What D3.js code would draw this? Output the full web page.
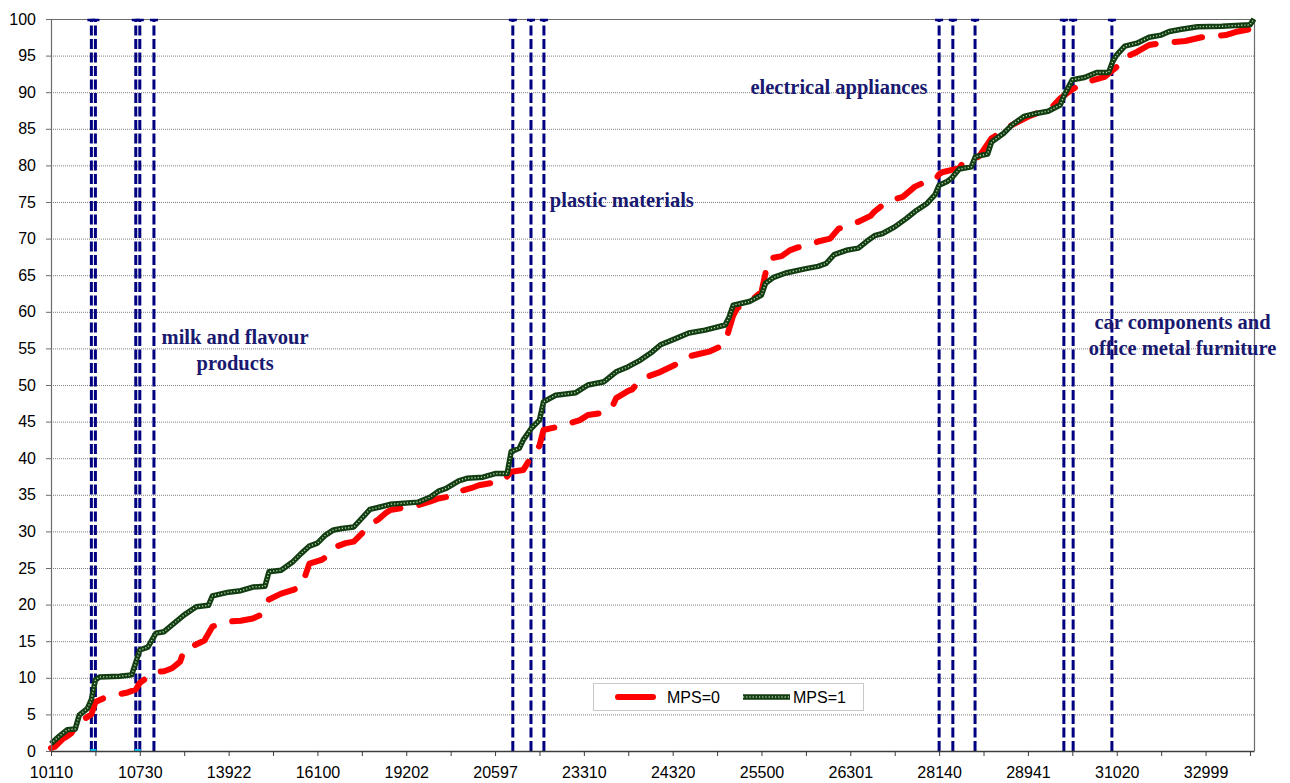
<!DOCTYPE html>
<html>
<head>
<meta charset="utf-8">
<script src="https://cdn.jsdelivr.net/npm/d3@7"></script>
<style>
  html, body { margin: 0; padding: 0; background: #ffffff; }
  svg { display: block; }
</style>
</head>
<body>
<svg id="chart" width="1290" height="783"></svg>
<script>
// Sector codes along the category axis (299 codes, one label every 22nd code)
const categoryCount = 299;
const tickLabels = ["10110", "10730", "13922", "16100", "19202", "20597", "23310",
                    "24320", "25500", "26301", "28140", "28941", "31020", "32999"];
const yTicks = [0, 5, 10, 15, 20, 25, 30, 35, 40, 45, 50, 55, 60, 65, 70, 75, 80, 85, 90, 95, 100];

// Cumulative share (%) by sector position: [category index, value]
const mps0 = [
  [0,0.4],[1,0.6],[3,1.7],[4,2.0],[5,2.4],[6,3.3],[8,4.3],[10,5.0],[11,6.7],[13,7.2],[16,7.65],
  [19,8.0],[21,8.4],[22,9.3],[24,10.1],[26,10.8],[28,10.9],[30,11.3],[32,12.2],[33,13.9],[35,14.3],
  [38,15.1],[40,17.0],[41,17.2],[44,17.7],[47,17.8],[50,18.1],[52,18.6],[53,19.5],[54,20.7],[57,21.5],
  [60,22.0],[62,22.5],[63,24.0],[64,25.6],[67,26.1],[69,26.8],[71,28.0],[73,28.4],[75,28.6],[77,29.7],
  [79,30.9],[81,31.6],[83,32.55],[84,32.9],[91,33.6],[94,34.1],[96,34.5],[99,34.8],[100,35.3],[104,35.9],
  [106,36.3],[109,36.6],[112,36.9],[114,38.15],[117,38.4],[118,39.3],[119,40.3],[121,41.7],[122,43.85],
  [124,44.1],[127,44.5],[129,44.85],[131,45.2],[133,45.9],[137,46.2],[139,47.0],[140,48.2],[143,49.2],
  [144,49.4],[146,50.7],[148,51.2],[151,51.8],[154,52.6],[157,53.4],[158,53.9],[161,54.3],[163,54.55],
  [166,55.3],[167,55.7],[168,57.7],[169,59.5],[170,60.5],[172,61.2],[174,61.8],[176,62.75],[177,65.3],
  [178,67.3],[181,67.6],[183,68.4],[185,68.8],[188,69.1],[190,69.6],[193,70.0],[195,71.3],[197,71.8],
  [200,72.3],[203,73.1],[204,73.7],[207,75.0],[209,75.4],[211,75.7],[214,77.1],[216,77.6],[219,78.0],
  [220,78.8],[221,79.1],[224,79.5],[225,79.6],[226,80.5],[228,80.6],[230,81.3],[231,82.1],[233,83.7],
  [235,84.4],[238,85.5],[242,86.65],[245,87.3],[248,88.0],[250,89.15],[253,90.4],[256,91.3],[261,92.1],
  [263,93.0],[265,93.95],[266,94.75],[269,95.5],[272,96.45],[275,96.7],[277,96.8],[281,97.0],[285,97.5],
  [288,97.7],[291,97.8],[294,98.3],[298,98.7]
];
const mps1 = [
  [0,1.0],[2,2.0],[4,2.9],[6,3.0],[7,4.9],[9,5.8],[10,7.0],[11,9.7],[12,10.1],[17,10.2],[20,10.4],
  [22,13.8],[24,14.2],[26,16.1],[28,16.3],[33,18.6],[36,19.7],[39,19.9],[40,21.2],[44,21.7],[47,21.9],
  [50,22.4],[53,22.5],[54,24.5],[57,24.7],[60,25.9],[62,27.0],[64,28.0],[66,28.4],[68,29.5],[70,30.2],
  [72,30.4],[75,30.6],[79,33.0],[82,33.4],[84,33.7],[91,34.0],[94,34.7],[96,35.5],[98,35.9],[101,36.9],
  [103,37.25],[107,37.4],[110,37.9],[113,37.9],[114,40.9],[116,41.35],[117,42.5],[119,44.1],[121,45.2],
  [122,47.7],[125,48.6],[130,48.95],[133,50.0],[137,50.45],[140,51.8],[143,52.5],[146,53.4],[149,54.55],
  [151,55.5],[155,56.4],[158,57.1],[162,57.5],[167,58.2],[168,59.3],[169,60.9],[173,61.4],[176,62.3],
  [177,63.9],[179,64.7],[182,65.3],[187,65.9],[190,66.2],[192,66.6],[194,67.8],[197,68.4],[200,68.7],
  [202,69.6],[204,70.4],[206,70.7],[209,71.6],[212,72.8],[214,73.7],[217,74.8],[219,76.0],[220,77.3],
  [222,77.8],[223,78.2],[225,79.5],[228,79.8],[229,81.2],[232,81.55],[233,83.2],[236,84.4],[238,85.5],
  [241,86.7],[244,87.1],[247,87.4],[250,88.25],[251,89.6],[253,91.7],[256,92.0],[259,92.7],[262,92.7],
  [263,94.2],[264,95.1],[266,96.3],[269,96.7],[272,97.5],[275,97.8],[277,98.3],[280,98.6],[284,98.95],
  [290,99.0],[297,99.2],[298,100]
];

// Category positions that mark sector boundaries
const sectorLines = [10, 11, 21, 22, 25.5, 114.4, 118.9, 122.1, 220, 223.4, 228.9, 250.9, 253.2, 262.8];
// Boundaries flagged on the axis
const axisMarks = [10.5, 21.5];

// Sector annotations: [text lines, category index of centre, value at first baseline]
const annotations = [
  { lines: ["milk and flavour", "products"], at: 45.6, value: 55.6 },
  { lines: ["plastic materials"], at: 141.4, value: 74.3 },
  { lines: ["electrical appliances"], at: 195.2, value: 89.75 },
  { lines: ["car components and", "office metal furniture"], at: 280.3, value: 57.65 }
];

const seriesNames = ["MPS=0", "MPS=1"];

const svg = d3.select("#chart");
const W = 1290, H = 783;
const margin = { top: 19, right: 36, bottom: 32, left: 51 };

const x = d3.scaleLinear().domain([0, categoryCount - 1]).range([margin.left, W - margin.right]);
const y = d3.scaleLinear().domain([0, 100]).range([H - margin.bottom, margin.top]);

const axisFont = "'Liberation Sans', Arial, sans-serif";
const noteFont = "'Liberation Serif', 'Times New Roman', serif";

// Dotted horizontal gridlines
svg.append("g")
  .selectAll("line")
  .data(yTicks.filter(v => v > 0 && v < 100))
  .join("line")
  .attr("x1", x(0)).attr("x2", x(categoryCount - 1))
  .attr("y1", d => y(d) + 0.5).attr("y2", d => y(d) + 0.5)
  .attr("stroke", "#7f7f7f")
  .attr("stroke-width", 1)
  .attr("stroke-dasharray", "1,1");

// Plot frame (top and right borders)
svg.append("path")
  .attr("d", `M${x(0)},${y(100) + 0.5}H${x(categoryCount - 1) + 0.5}V${y(0)}`)
  .attr("fill", "none")
  .attr("stroke", "#6b6b6b")
  .attr("stroke-width", 1.2);

// Sector boundary lines with caps at the top
const sectors = svg.append("g");
sectors.selectAll("line.bound")
  .data(sectorLines)
  .join("line")
  .attr("class", "bound")
  .attr("x1", d => x(d)).attr("x2", d => x(d))
  .attr("y1", y(0)).attr("y2", y(100))
  .attr("stroke", "#000080")
  .attr("stroke-width", 3)
  .attr("stroke-dasharray", "10,3.5");
sectors.selectAll("line.cap")
  .data(sectorLines)
  .join("line")
  .attr("class", "cap")
  .attr("x1", d => x(d) - 4).attr("x2", d => x(d) + 4)
  .attr("y1", y(100) + 1).attr("y2", y(100) + 1)
  .attr("stroke", "#000080")
  .attr("stroke-width", 2.5);

// Line generator shared by both series
const line = d3.line().x(d => x(d[0])).y(d => y(d[1]));

// MPS=0: thick red long-dashed line
svg.append("path")
  .datum(mps0)
  .attr("d", line)
  .attr("fill", "none")
  .attr("stroke", "#ff0000")
  .attr("stroke-width", 6)
  .attr("stroke-linecap", "round")
  .attr("stroke-linejoin", "round")
  .attr("stroke-dasharray", "28,19");

// MPS=1: dark green line with a light dotted core
const g1 = svg.append("g");
g1.append("path")
  .datum(mps1)
  .attr("d", line)
  .attr("fill", "none")
  .attr("stroke", "#123d12")
  .attr("stroke-width", 5.5)
  .attr("stroke-linejoin", "round");
g1.append("path")
  .datum(mps1)
  .attr("d", line)
  .attr("fill", "none")
  .attr("stroke", "#b7d3a8")
  .attr("stroke-width", 1.4)
  .attr("stroke-dasharray", "1.2,2")
  .attr("stroke-linejoin", "round");

// Turquoise markers on the category axis
svg.append("g")
  .selectAll("rect")
  .data(axisMarks)
  .join("rect")
  .attr("x", d => x(d) - 3).attr("y", y(0) - 2)
  .attr("width", 6).attr("height", 3)
  .attr("fill", "#00ccff");

// Y axis
const yAxis = svg.append("g")
  .attr("transform", `translate(${x(0)},0)`)
  .call(d3.axisLeft(y).tickValues(yTicks).tickSize(5).tickPadding(10).tickFormat(d3.format("d")));
yAxis.select(".domain").attr("stroke", "#6b6b6b").attr("stroke-width", 1.2);
yAxis.selectAll(".tick line").attr("stroke", "#6b6b6b");
yAxis.selectAll("text").attr("font-family", axisFont).attr("font-size", 16).attr("fill", "#000");

// X axis: tick every 11 categories, label every 22
const xTickValues = d3.range(0, categoryCount, 11);
const xAxis = svg.append("g")
  .attr("transform", `translate(0,${y(0)})`)
  .call(d3.axisBottom(x)
    .tickValues(xTickValues)
    .tickSize(5)
    .tickSizeOuter(0)
    .tickPadding(11)
    .tickFormat(d => (d % 22 === 0 ? tickLabels[d / 22] : "")));
xAxis.select(".domain").attr("stroke", "#3c3c3c").attr("stroke-width", 1.5);
xAxis.selectAll(".tick line").attr("stroke", "#3c3c3c");
xAxis.selectAll("text").attr("font-family", axisFont).attr("font-size", 16).attr("fill", "#000");

// Sector annotations
const notes = svg.append("g")
  .attr("font-family", noteFont)
  .attr("font-weight", "bold")
  .attr("font-size", 20.5)
  .attr("fill", "#191970")
  .attr("text-anchor", "middle");
annotations.forEach(a => {
  const t = notes.append("text")
    .attr("x", x(a.at))
    .attr("y", y(a.value));
  a.lines.forEach((s, i) => {
    t.append("tspan")
      .attr("x", x(a.at))
      .attr("dy", i === 0 ? 0 : 26)
      .text(s);
  });
});

// Legend
const legend = svg.append("g").attr("transform", "translate(593,683)");
legend.append("rect")
  .attr("x", 0.5).attr("y", 0.5)
  .attr("width", 270).attr("height", 27)
  .attr("fill", "#ffffff")
  .attr("stroke", "#c8c8c8");
legend.append("line")
  .attr("x1", 25).attr("x2", 60).attr("y1", 14).attr("y2", 14)
  .attr("stroke", "#ff0000").attr("stroke-width", 6).attr("stroke-linecap", "round");
legend.append("line")
  .attr("x1", 150).attr("x2", 197).attr("y1", 14).attr("y2", 14)
  .attr("stroke", "#123d12").attr("stroke-width", 5.5);
legend.append("line")
  .attr("x1", 150).attr("x2", 197).attr("y1", 14).attr("y2", 14)
  .attr("stroke", "#b7d3a8").attr("stroke-width", 1.4).attr("stroke-dasharray", "1.2,2");
legend.selectAll("text")
  .data(seriesNames)
  .join("text")
  .attr("x", (d, i) => (i === 0 ? 74 : 200))
  .attr("y", 20)
  .attr("font-family", axisFont)
  .attr("font-size", 16)
  .attr("fill", "#000")
  .text(d => d);
</script>
</body>
</html>
